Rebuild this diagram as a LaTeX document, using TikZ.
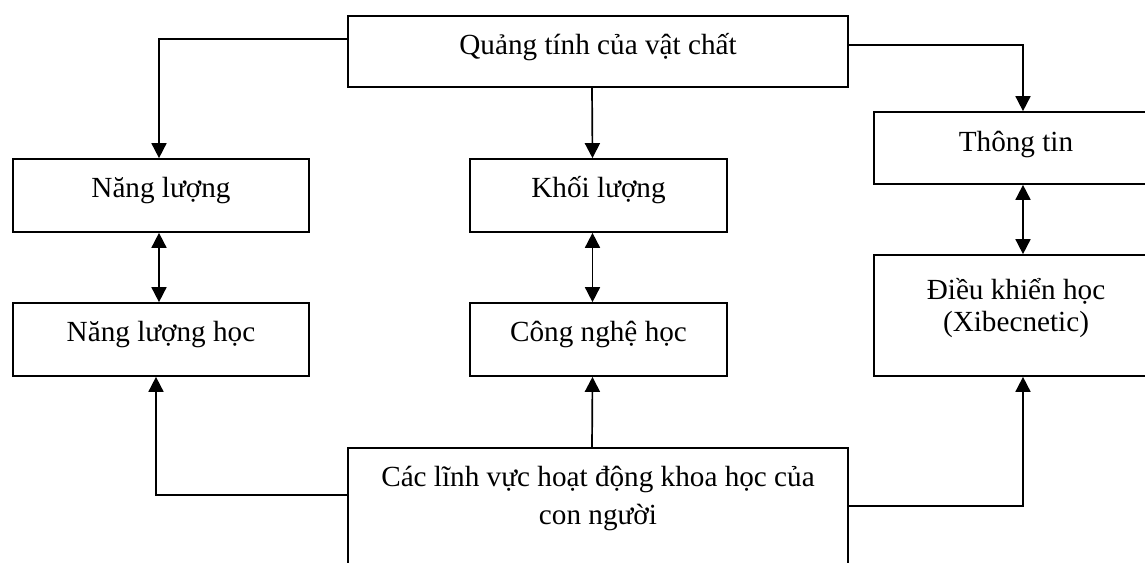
\documentclass[tikz,border=0pt]{standalone}
\usepackage{fontspec}
\setmainfont{Liberation Serif}
\usetikzlibrary{arrows.meta}

\begin{document}
\begin{tikzpicture}[x=0.5pt,y=-0.5pt,line width=0.85pt,
    box/.style={draw,inner sep=0pt},
    lbl/.style={anchor=base,inner sep=0pt,align=center,font=\fontsize{14.6pt}{16pt}\selectfont},
    arr/.style={-{Triangle[length=7.5pt,width=7.5pt]}},
    dbl/.style={{Triangle[length=7.5pt,width=7.5pt]}-{Triangle[length=7.5pt,width=7.5pt]}}]
    \useasboundingbox (0,0) rectangle (1145,562);
    \clip (0,0) rectangle (1145,562);

    % boxes
    \node[box,minimum width=250pt,minimum height=35.5pt] (top) at (598,51.5) {};
    \node[box,minimum width=148pt,minimum height=36.5pt] (nl) at (161,195.5) {};
    \node[box,minimum width=148pt,minimum height=36.5pt] (nlh) at (161,339.5) {};
    \node[box,minimum width=128.5pt,minimum height=36.5pt] (kl) at (598.5,195.5) {};
    \node[box,minimum width=128.5pt,minimum height=36.5pt] (cnh) at (598.5,339.5) {};
    \node[box,minimum width=142pt,minimum height=36pt] (tt) at (1016,148) {};
    \node[box,minimum width=142pt,minimum height=60.5pt] (dkh) at (1016,315.5) {};
    \node[box,minimum width=250pt,minimum height=76pt] (ht) at (598,524) {};

    % texts (base of a two-line text is its last line)
    \node[lbl] (ttop) at ([yshift=-19.5pt]top.north) {Quảng tính của vật chất};
    \node[lbl] (tnl) at ([yshift=-19.5pt]nl.north) {Năng lượng};
    \node[lbl] (tnlh) at ([yshift=-19.5pt]nlh.north) {Năng lượng học};
    \node[lbl] (tkl) at ([yshift=-19.5pt]kl.north) {Khối lượng};
    \node[lbl] (tcnh) at ([yshift=-19.5pt]cnh.north) {Công nghệ học};
    \node[lbl] (ttt) at ([yshift=-20pt]tt.north) {Thông tin};
    \node[lbl] (tdkh) at ([yshift=-38.5pt]dkh.north) {Điều khiển học\\(Xibecnetic)};
    \node[lbl,font=\fontsize{14.6pt}{19pt}\selectfont] (tht) at ([yshift=-38.5pt]ht.north) {Các lĩnh vực hoạt động khoa học của\\con người};

    % connectors
    \draw[arr] ([yshift=-12pt]top.north west) -| ([xshift=-1pt]nl.north);
    \draw[arr] ([xshift=-3pt]top.south) -- ([xshift=-3pt]kl.north);
    \draw[arr] ([yshift=-15pt]top.north east) -| ([xshift=3.5pt]tt.north);
    \draw[dbl] ([xshift=-1pt]nl.south) -- ([xshift=-1pt]nlh.north);
    \draw[dbl] ([xshift=-3pt]kl.south) -- ([xshift=-3pt]cnh.north);
    \draw[dbl] ([xshift=3.5pt]tt.south) -- ([xshift=3.5pt]dkh.north);
    \draw[arr] ([yshift=-24pt]ht.north west) -| ([xshift=-2.5pt]nlh.south);
    \draw[arr] ([xshift=-3pt]ht.north) -- ([xshift=-3pt]cnh.south);
    \draw[arr] ([yshift=-29.5pt]ht.north east) -| ([xshift=3.5pt]dkh.south);
\end{tikzpicture}
\end{document}
